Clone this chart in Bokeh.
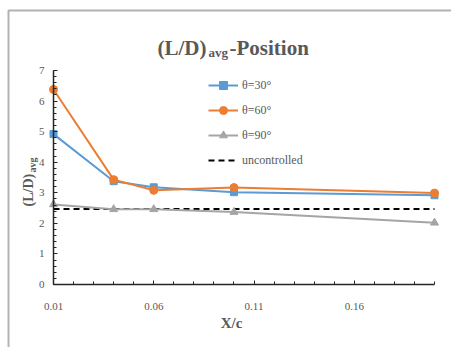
import math
from bokeh.plotting import figure
from bokeh.models import FixedTicker, Label, Legend, LegendItem, Range1d, BoxAnnotation
from bokeh.embed import file_html
from bokeh.resources import INLINE

# ---- data ----
x_pos = [0.01, 0.04, 0.06, 0.10, 0.20]
theta30 = [4.92, 3.38, 3.18, 3.02, 2.92]
theta60 = [6.38, 3.43, 3.08, 3.17, 2.99]
theta90 = [2.62, 2.46, 2.46, 2.37, 2.02]
uncontrolled = [2.47, 2.47, 2.47, 2.47, 2.47]
x_ticks = [0.01, 0.06, 0.11, 0.16]
x_tick_labels = ["0.01", "0.06", "0.11", "0.16"]
y_ticks = [0, 1, 2, 3, 4, 5, 6, 7]
series_names = ["θ=30°", "θ=60°", "θ=90°", "uncontrolled"]

TXT = "#595959"
SERIF = "Liberation Serif"
SANS = "Liberation Sans Narrow"

W, H = 451, 347
# pixel geometry of the data area inside the canvas
PL, PR, PT, PB = 53, 434, 70, 284
X0, X1, Y0, Y1 = 0.01, 0.20, 0.0, 7.0
kx = (X1 - X0) / (PR - PL)
ky = (Y1 - Y0) / (PB - PT)

p = figure(width=W, height=H, output_backend="svg", toolbar_location=None,
           x_range=Range1d(X0 - PL * kx, X0 + (W - PL) * kx),
           y_range=Range1d(Y0 - (H - PB) * ky, Y0 + PB * ky),
           min_border=0)
p.outline_line_color = None
p.xgrid.visible = False
p.ygrid.visible = False
p.background_fill_color = "white"
p.border_fill_color = "white"

def px(x):
    return X0 + (x - PL) * kx

def py(y):
    return Y0 + (PB - y) * ky

minor_x = [round(0.01 * i, 2) for i in range(1, 21)]
minor_y = [round(0.2 * i, 1) for i in range(0, 36)]
p.xaxis.ticker = FixedTicker(ticks=x_ticks, minor_ticks=minor_x)
p.yaxis.ticker = FixedTicker(ticks=y_ticks, minor_ticks=minor_y)
p.xaxis.major_label_overrides = {t: l for t, l in zip(x_ticks, x_tick_labels)}
p.xaxis.fixed_location = Y0
p.yaxis.fixed_location = X0
p.xaxis.bounds = (X0, X1)
p.yaxis.bounds = (Y0, Y1)
for ax in (p.xaxis, p.yaxis):
    ax.axis_line_color = "#262626"
    ax.axis_line_width = 1.5
    ax.major_tick_line_color = "#262626"
    ax.minor_tick_line_color = "#262626"
    ax.major_tick_in = 4
    ax.major_tick_out = 0
    ax.minor_tick_in = 3
    ax.minor_tick_out = 0
    ax.major_label_text_font = SANS
    ax.major_label_text_font_size = "11px"
    ax.major_label_text_color = TXT
p.xaxis.major_label_standoff = 18
p.yaxis.major_label_standoff = 9

BLUE = "#5B9BD5"
ORANGE = "#ED7D31"
GRAY = "#A5A5A5"

l_unc = p.line(x_pos, uncontrolled, line_color="black", line_width=2, line_dash="6 4")
l90 = p.line(x_pos, theta90, line_color=GRAY, line_width=2)
m90 = p.scatter(x_pos, theta90, marker="triangle", size=8, fill_color=GRAY, line_color=GRAY)
l30 = p.line(x_pos, theta30, line_color=BLUE, line_width=2)
m30 = p.scatter(x_pos, theta30, marker="square", size=7, fill_color=BLUE, line_color=BLUE)
l60 = p.line(x_pos, theta60, line_color=ORANGE, line_width=2)
m60 = p.scatter(x_pos, theta60, marker="circle", size=8, fill_color=ORANGE, line_color=ORANGE)

legend = Legend(items=[
    LegendItem(label=series_names[0], renderers=[l30, m30]),
    LegendItem(label=series_names[1], renderers=[l60, m60]),
    LegendItem(label=series_names[2], renderers=[l90, m90]),
    LegendItem(label=series_names[3], renderers=[l_unc]),
], location=(208, 177), orientation="vertical")
legend.border_line_color = None
legend.background_fill_alpha = 0
legend.padding = 0
legend.margin = 0
legend.spacing = 5
legend.glyph_width = 30
legend.glyph_height = 20
legend.label_height = 20
legend.label_standoff = 4
legend.label_text_font = SERIF
legend.label_text_font_size = "12px"
legend.label_text_color = TXT
p.add_layout(legend)

# outer chart frame (only its top and left edges fall inside the picture)
p.add_layout(BoxAnnotation(left=px(8), right=px(480), top=py(10), bottom=py(380),
                           fill_alpha=0, line_color="black", line_width=2))

def lab(text, x, y, size, align="left", angle=0.0, baseline="alphabetic"):
    p.add_layout(Label(x=px(x), y=py(y), text=text,
                       text_font=SERIF, text_font_style="bold",
                       text_font_size=size, text_color=TXT, text_align=align,
                       text_baseline=baseline, angle=angle))

# title (L/D)avg-Position
lab("(L/D)", 157, 47, "21px")
lab("avg", 208, 52, "13px")
lab("-Position", 229, 47, "21px")
# y axis title (reads bottom to top)
lab("(L/D)", 28, 206, "14px", angle=math.pi / 2, baseline="middle")
lab("avg", 32, 172, "10px", angle=math.pi / 2, baseline="middle")
# x axis title
lab("X/c", 231, 322, "15px", align="center")

open("out.html", "w").write(file_html(p, INLINE))
